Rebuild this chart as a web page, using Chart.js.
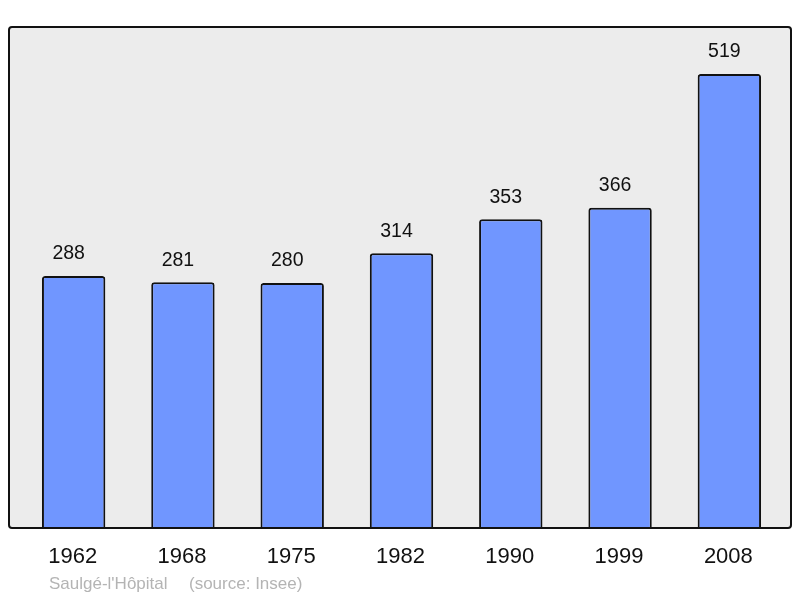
<!DOCTYPE html>
<html>
<head>
<meta charset="utf-8">
<script src="https://cdn.jsdelivr.net/npm/chart.js@4"></script>
<style>
    html, body { margin: 0; padding: 0; background: #fff; }
    #wrap { width: 800px; height: 598px; position: relative; }
</style>
</head>
<body>
<div id="wrap"><canvas id="graph" width="800" height="598"></canvas></div>
<script>
// Population data
const years = ['1962', '1968', '1975', '1982', '1990', '1999', '2008'];
const population = [288, 281, 280, 314, 353, 366, 519];
const sourceLabel = "Saulgé-l'Hôpital";
const sourceNote = '(source: Insee)';

const fontFamily = '"Liberation Sans", Arial, sans-serif';

// Draw the grey framed box behind the bars
const frameBox = {
    id: 'frameBox',
    beforeDraw: (chart) => {
        const { ctx, chartArea } = chart;
        const x = chartArea.left - 10;
        const y = chartArea.top;
        const w = chartArea.right + 7 - x;
        const h = chartArea.bottom - y;
        ctx.save();
        ctx.beginPath();
        ctx.roundRect(x, y, w, h, 3);
        ctx.fillStyle = '#ececec';
        ctx.fill();
        ctx.restore();
    },
    afterDatasetsDraw: (chart) => {
        const { ctx, chartArea } = chart;
        const x = chartArea.left - 10;
        const y = chartArea.top;
        const w = chartArea.right + 7 - x;
        const h = chartArea.bottom - y;
        ctx.save();
        ctx.beginPath();
        ctx.roundRect(x, y, w, h, 3);
        ctx.lineWidth = 2;
        ctx.strokeStyle = '#111';
        ctx.stroke();
        ctx.restore();
    }
};

// Value labels above bars, year labels below, source line
const labelsPlugin = {
    id: 'labelsPlugin',
    afterDraw: (chart) => {
        const { ctx } = chart;
        const meta = chart.getDatasetMeta(0);
        ctx.save();
        ctx.textAlign = 'center';
        ctx.textBaseline = 'middle';
        ctx.fillStyle = '#111';
        ctx.font = `19.5px ${fontFamily}`;
        meta.data.forEach((bar, i) => {
            ctx.fillText(String(population[i]), bar.x - 5, bar.y - 22);
        });
        ctx.font = `22px ${fontFamily}`;
        const xScale = chart.scales.x;
        years.forEach((yr, i) => {
            ctx.fillText(yr, xScale.getPixelForValue(i) - 1, 557);
        });
        ctx.textAlign = 'left';
        ctx.fillStyle = '#b4b4b4';
        ctx.font = `17px ${fontFamily}`;
        ctx.fillText(sourceLabel, 49, 584);
        ctx.fillText(sourceNote, 189, 584);
        ctx.restore();
    }
};

const dailyGraph = new Chart(document.getElementById('graph'), {
    type: 'bar',
    data: {
        labels: years,
        datasets: [{
            data: population,
            backgroundColor: '#7096ff',
            borderColor: '#111',
            borderWidth: 2,
            borderRadius: 3,
            borderSkipped: 'bottom',
            barPercentage: 0.58,
            categoryPercentage: 1
        }]
    },
    options: {
        responsive: false,
        animation: false,
        events: [],
        layout: { padding: { left: 19, right: 16, top: 27, bottom: 70 } },
        plugins: {
            legend: { display: false },
            tooltip: { enabled: false }
        },
        scales: {
            x: { display: false },
            y: { display: false, min: 0, max: 572.6 }
        }
    },
    plugins: [frameBox, labelsPlugin]
});
</script>
</body>
</html>
